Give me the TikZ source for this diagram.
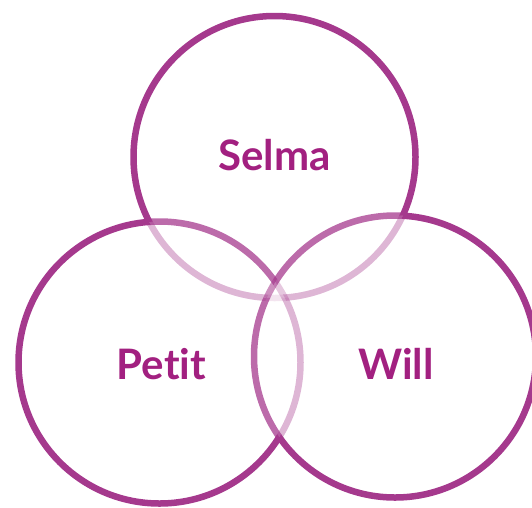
\documentclass[tikz,border=0pt]{standalone}
\usepackage{fontspec}
\newfontfamily\labfont{Lato}[Ligatures={NoCommon,NoRequired,NoContextual}]
\definecolor{ringc}{RGB}{165,57,141}
\definecolor{textc}{RGB}{162,32,128}
\tikzset{
  ring/.style={draw=ringc, line width=6.5pt},
  lab/.style={text=textc, font=\labfont\bfseries\fontsize{42}{42}\selectfont, inner sep=0pt}
}
% clockwise frame, so that a (counter-clockwise) circle added to it makes a hole
\newcommand\bigrect{(-40,40) -- (600,40) -- (600,-560) -- (-40,-560) -- cycle}
\begin{document}
\begin{tikzpicture}[x=1pt,y=1pt]
\useasboundingbox (0,0) rectangle (532,-507);
\coordinate (cT) at (274.5,-157);
\coordinate (cL) at (159.5,-362.5);
\coordinate (cR) at (395,-356.5);
\def\pT{(cT) circle[radius=141]}
\def\pL{(cL) circle[radius=141]}
\def\pR{(cR) circle[radius=141]}
% #1 own path, #2 other A, #3 other B, #4 opacity in A, #5 opacity in B
\newcommand\ringparts[5]{%
  \begin{scope}
    \clip \bigrect #2;
    \clip \bigrect #3;
    \draw[ring] #1;
  \end{scope}
  \begin{scope}
    \clip #2;
    \clip \bigrect #3;
    \draw[ring, draw opacity=#4] #1;
  \end{scope}
  \begin{scope}
    \clip \bigrect #2;
    \clip #3;
    \draw[ring, draw opacity=#5] #1;
  \end{scope}
  \begin{scope}
    \clip #2;
    \clip #3;
    \pgfmathsetmacro\opab{#4*#5}
    \draw[ring, draw opacity=\opab] #1;
  \end{scope}
}
\ringparts{\pT}{\pL}{\pR}{0.37}{0.37}
\ringparts{\pL}{\pT}{\pR}{0.75}{0.37}
\ringparts{\pR}{\pT}{\pL}{0.75}{0.75}
\node[lab] (selma) at (274.5,-155) {Selma};
\node[lab] (petit) at (161.5,-364) {Petit};
\node[lab] (will) at (396,-364) {Will};
\end{tikzpicture}
\end{document}
